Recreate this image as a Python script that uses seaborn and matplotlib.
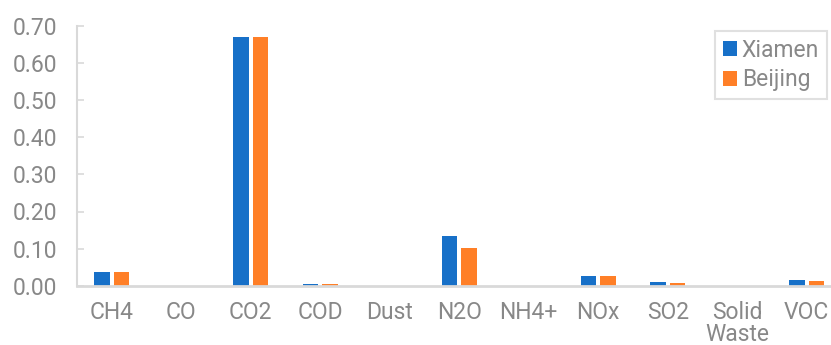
import matplotlib
matplotlib.use("Agg")
import matplotlib.pyplot as plt
import seaborn as sns
import pandas as pd

# Emission indicators per unit, two cities
categories = ["CH4", "CO", "CO2", "COD", "Dust", "N2O", "NH4+", "NOx", "SO2", "Solid\nWaste", "VOC"]
xiamen = [0.036, 0.0003, 0.670, 0.004, 0.0002, 0.134, 0.0002, 0.025, 0.009, 0.0002, 0.0145]
beijing = [0.037, 0.0003, 0.670, 0.004, 0.0002, 0.102, 0.0002, 0.026, 0.007, 0.0002, 0.012]
series = ["Xiamen", "Beijing"]
colors = ["#1770C8", "#FF7F27"]
yticks = [0.0, 0.1, 0.2, 0.3, 0.4, 0.5, 0.6, 0.7]

df = pd.DataFrame({
    "category": categories * 2,
    "value": xiamen + beijing,
    "city": [series[0]] * len(categories) + [series[1]] * len(categories),
})

sns.set_theme(style="white")
plt.rcParams["font.family"] = ["Roboto", "DejaVu Sans"]
plt.rcParams["font.weight"] = 400

text_color = "#888888"
axis_color = "#d9d9d9"
fs = 16.5

fig = plt.figure(figsize=(8.31, 3.45), dpi=100)
W, H = 831, 345
left_px, right_px, top_px, bottom_px = 77, 831, 26, 285.7
ax = fig.add_axes([left_px / W, 1 - bottom_px / H, (right_px - left_px) / W, (bottom_px - top_px) / H])

sns.barplot(data=df, x="category", y="value", hue="city", palette=colors,
            width=0.56, gap=0.2, linewidth=0, ax=ax, saturation=1)

ax.set_ylim(0, 0.70)
ax.set_xlim(-0.5, -0.5 + (right_px - left_px) / 69.5)
ax.set_yticks(yticks)
ax.set_yticklabels([f"{t:.2f}" for t in yticks])
ax.set_xlabel("")
ax.set_ylabel("")

for side in ["top", "right"]:
    ax.spines[side].set_visible(False)
ax.spines["left"].set_color(axis_color)
ax.spines["left"].set_linewidth(1.5)
ax.spines["bottom"].set_color(axis_color)
ax.spines["bottom"].set_linewidth(2)

ax.tick_params(axis="y", direction="in", length=5, width=1.2, color=axis_color,
               labelsize=fs, labelcolor=text_color, pad=14, left=True)
ax.tick_params(axis="x", length=0, labelsize=fs, labelcolor=text_color, pad=11)
for lab in ax.get_xticklabels():
    lab.set_linespacing(0.95)
    lab.set_verticalalignment("top")

leg = ax.legend(loc="upper right", bbox_to_anchor=(827 / W, 1 - 30.5 / H),
                bbox_transform=fig.transFigure, fontsize=fs, frameon=True,
                handlelength=0.6, handleheight=0.6, handletextpad=0.2,
                borderpad=0.35, labelspacing=0.3, fancybox=False, borderaxespad=0)
leg.get_frame().set_edgecolor(axis_color)
leg.get_frame().set_linewidth(1.5)
for t in leg.get_texts():
    t.set_color(text_color)

fig.savefig("out.png", dpi=100)
